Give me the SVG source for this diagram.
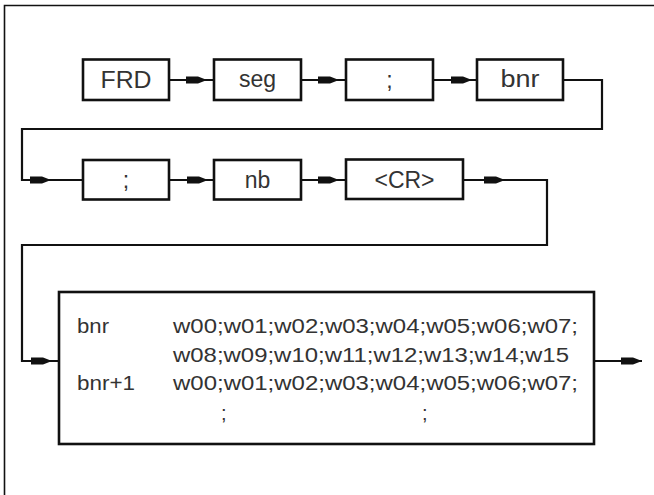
<svg xmlns="http://www.w3.org/2000/svg" width="654" height="495" viewBox="0 0 654 495">
<defs>
<style>
.frame{fill:none;stroke:#111;stroke-width:1.6}
.box{fill:#fff;stroke:#111;stroke-width:2.6}
.line{fill:none;stroke:#111;stroke-width:2.2}
.ah{fill:#111;stroke:none}
.lbl{font-family:"Liberation Sans",Arial,sans-serif;font-size:23px;fill:#333;text-anchor:middle}
.txt{font-family:"Liberation Sans",Arial,sans-serif;font-size:20px;fill:#333}
</style>
<polygon id="arr" class="ah" points="-21,-3.5 -9,-3.5 0,0 -9,3.5 -21,3.5"/>
</defs>
<rect width="654" height="495" fill="#fff"/>
<path class="frame" d="M4.5,495 V5.5 H654"/>
<g id="connectors">
<path class="line" d="M169,80 H214 M301,80 H346 M433,80 H477"/>
<path class="line" d="M563,80 H602 V129 H22 V180 H83"/>
<path class="line" d="M169,180 H214 M301,180 H346"/>
<path class="line" d="M463,180 H547 V245 H22 V361 H59"/>
<path class="line" d="M594,361 H642"/>
<use href="#arr" x="207" y="80"/>
<use href="#arr" x="339" y="80"/>
<use href="#arr" x="472" y="80"/>
<use href="#arr" x="51" y="180"/>
<use href="#arr" x="208" y="180"/>
<use href="#arr" x="339" y="180"/>
<use href="#arr" x="505" y="180"/>
<use href="#arr" x="52" y="361"/>
<use href="#arr" x="642" y="361"/>
</g>
<g id="n-frd"><rect class="box" x="83" y="59.5" width="86" height="40.5"/><text class="lbl" x="126" y="88" textLength="51" lengthAdjust="spacingAndGlyphs">FRD</text></g>
<g id="n-seg"><rect class="box" x="214" y="59.5" width="87" height="40.5"/><text class="lbl" x="257.5" y="87">seg</text></g>
<g id="n-semi1"><rect class="box" x="346" y="59.5" width="87" height="40.5"/><text class="lbl" x="389.5" y="88">;</text></g>
<g id="n-bnr"><rect class="box" x="477" y="59.5" width="86" height="40.5"/><text class="lbl" x="520" y="87" textLength="39" lengthAdjust="spacingAndGlyphs">bnr</text></g>
<g id="n-semi2"><rect class="box" x="83" y="160" width="86" height="39.5"/><text class="lbl" x="126" y="188">;</text></g>
<g id="n-nb"><rect class="box" x="214" y="160" width="87" height="39.5"/><text class="lbl" x="257.5" y="188">nb</text></g>
<g id="n-cr"><rect class="box" x="346" y="159.5" width="117" height="39.5"/><text class="lbl" x="404.5" y="188">&lt;CR&gt;</text></g>
<g id="n-data">
<rect class="box" x="59" y="292" width="535" height="152"/>
<text class="txt" x="77" y="333" textLength="32" lengthAdjust="spacingAndGlyphs">bnr</text>
<text class="txt" x="173" y="333" textLength="405" lengthAdjust="spacingAndGlyphs">w00;w01;w02;w03;w04;w05;w06;w07;</text>
<text class="txt" x="173" y="362" textLength="396" lengthAdjust="spacingAndGlyphs">w08;w09;w10;w11;w12;w13;w14;w15</text>
<text class="txt" x="77" y="390" textLength="58" lengthAdjust="spacingAndGlyphs">bnr+1</text>
<text class="txt" x="173" y="390" textLength="405" lengthAdjust="spacingAndGlyphs">w00;w01;w02;w03;w04;w05;w06;w07;</text>
<text class="txt" x="221" y="420">;</text>
<text class="txt" x="422" y="420">;</text>
</g>
</svg>
